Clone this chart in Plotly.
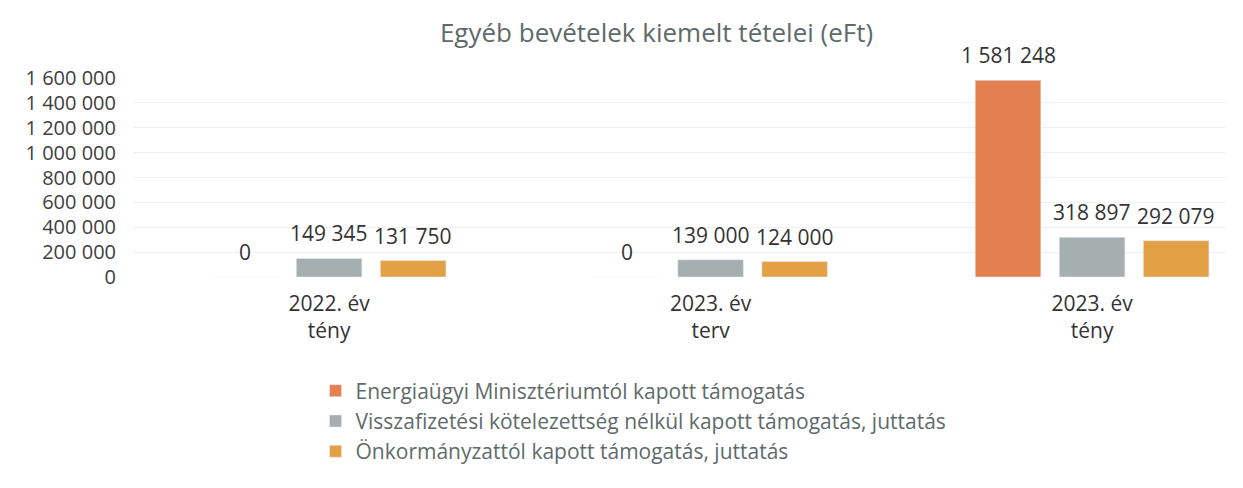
import plotly.graph_objects as go

categories = ["2022. év<br>tény", "2023. év<br>terv", "2023. év<br>tény"]
series_names = [
    "Energiaügyi Minisztériumtól kapott támogatás",
    "Visszafizetési kötelezettség nélkül kapott támogatás, juttatás",
    "Önkormányzattól kapott támogatás, juttatás",
]
energia = [0, 0, 1581248]
visszafizetesi = [149345, 139000, 318897]
onkormanyzat = [131750, 124000, 292079]
colors = ["#E47F50", "#A6AFAF", "#E3A044"]
y_ticks = [0, 200000, 400000, 600000, 800000, 1000000, 1200000, 1400000, 1600000]

def fmt(v):
    return f"{v:,}".replace(",", " ")

FONT = "Open Sans"
SLOT_PX = 84  # pixel offset of each bar within its group, for the value labels
fig = go.Figure()
for si, (name, vals, col) in enumerate(zip(series_names, [energia, visszafizetesi, onkormanyzat], colors)):
    fig.add_trace(go.Bar(
        x=categories, y=vals, name=name, marker_color=col,
    ))
    for c, v in zip(categories, vals):
        fig.add_annotation(
            x=c, y=v, xref="x", yref="y", text=fmt(v), showarrow=False,
            yanchor="bottom", yshift=9, xshift=(si - 1) * SLOT_PX,
            font=dict(size=21, color="#333333", family=FONT),
        )

fig.update_layout(
    width=1243, height=488,
    paper_bgcolor="white", plot_bgcolor="white",
    margin=dict(l=125, r=25, t=70, b=219, autoexpand=False),
    barmode="group", bargap=0.339, bargroupgap=0.22,
    title=dict(text="Egyéb bevételek kiemelt tételei (eFt)", x=0.479, xanchor="center",
               xref="paper", y=0.949, yanchor="middle",
               font=dict(size=26, color="#5E6B6A", family=FONT)),
    font=dict(family=FONT, size=20, color="#404040"),
    legend=dict(orientation="v", x=0.167, xanchor="left", y=-0.47, yanchor="top",
                font=dict(size=21, color="#5E6B6A", family=FONT),
                itemwidth=30, tracegroupgap=0),
    showlegend=True,
)
fig.update_xaxes(range=[-0.514, 2.351], showline=False, ticks="", showgrid=False,
                 tickfont=dict(size=21, color="#333333"), ticklabelstandoff=12)
fig.update_yaxes(range=[0, 1600000], tickvals=y_ticks, ticktext=[fmt(v) for v in y_ticks],
                 showgrid=True, gridcolor="#F0F0F0", zeroline=False, ticks="",
                 tickfont=dict(size=20, color="#404040"), ticklabelstandoff=16)

fig.write_html("out.html")
